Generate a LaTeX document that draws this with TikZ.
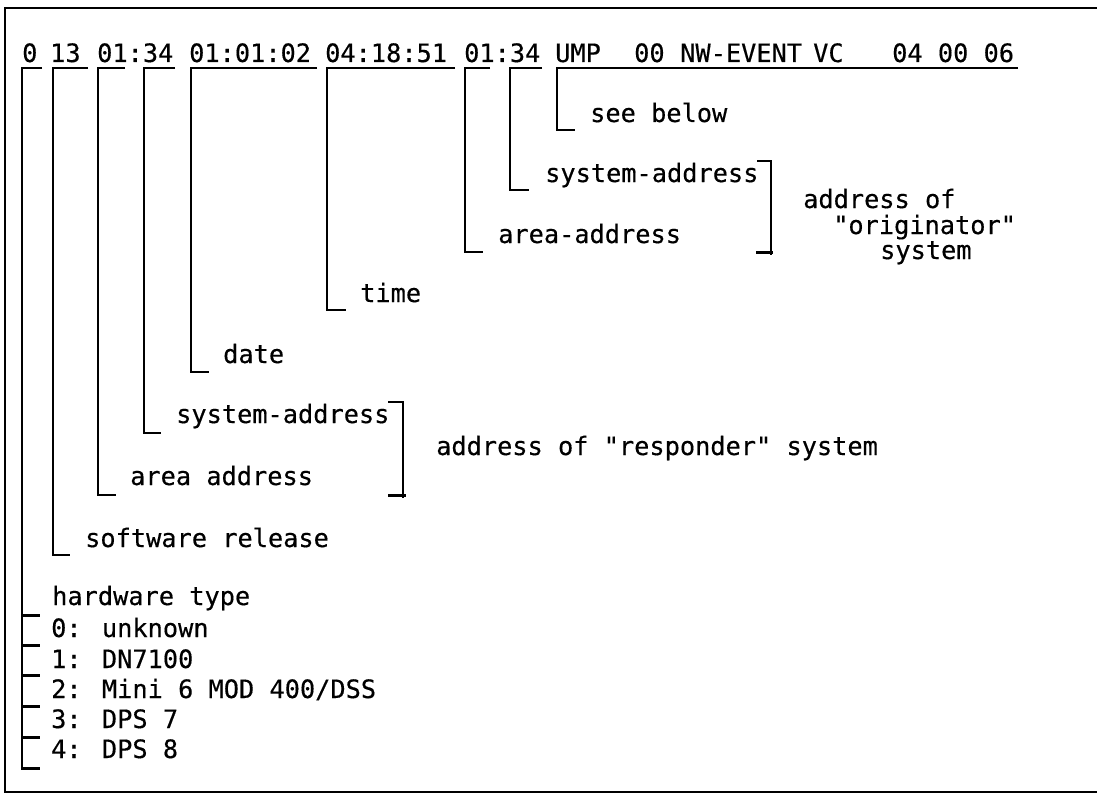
\documentclass[tikz,border=0pt]{standalone}
\usepackage{fontspec}
\newfontfamily\monofnt[FakeBold=0.4]{DejaVu Sans Mono}
\begin{document}
\begin{tikzpicture}[x=1pt,y=-1pt,
  lbl/.style={font=\monofnt\fontsize{25.3}{30}\selectfont, inner sep=0pt, anchor=base west},
  frame/.style={line width=1.8pt},
  brk/.style={line width=2.4pt, line join=miter},
  tk/.style={line width=3pt}]
\useasboundingbox (0,0) rectangle (1097,797);
% frame (top, left, bottom)
\draw[frame] (1097,8) -- (5,8) -- (5,792) -- (1097,792);
% header fields
\node[lbl] (h0) at (22,62) {0};
\node[lbl] (h13) at (50,62) {13};
\node[lbl] (h0134a) at (97,62) {01:34};
\node[lbl] (hdate) at (189,62) {01:01:02};
\node[lbl] (htime) at (325,62) {04:18:51};
\node[lbl] (h0134b) at (464,62) {01:34};
\node[lbl] (hump) at (555,62) {UMP};
\node[lbl] (h00) at (634,62) {00};
\node[lbl] (hnw) at (680,62) {NW-EVENT};
\node[lbl] (hvc) at (813,62) {VC};
\node[lbl] (hnum) at (892,62) {04 00 06};
% labels
\node[lbl] (seebelow) at (590,122) {see below};
\node[lbl] (osys) at (545,182) {system-address};
\node[lbl] (oarea) at (498,243) {area-address};
\node[lbl] (time) at (360,302) {time};
\node[lbl] (date) at (223,363) {date};
\node[lbl] (rsys) at (176,423) {system-address};
\node[lbl] (rarea) at (130,485) {area address};
\node[lbl] (soft) at (85,547) {software release};
\node[lbl] (hw) at (52,605) {hardware type};
\node[lbl] (hw0) at (51,637) {0: unknown};
\node[lbl] (hw1) at (51,668) {1: DN7100};
\node[lbl] (hw2) at (51,698) {2: Mini 6 MOD 400/DSS};
\node[lbl] (hw3) at (51,728) {3: DPS 7};
\node[lbl] (hw4) at (51,758) {4: DPS 8};
\node[lbl] (orig1) at (803,208) {address of};
\node[lbl] (orig2) at (833,234) {"originator"};
\node[lbl] (orig3) at (880,259) {system};
\node[lbl] (resp) at (436,455) {address of "responder" system};
% field brackets: top segment, vertical, tick
\coordinate (fUMP) at (557,68);
\draw[brk] (1018,68) -- (fUMP) -- (557,130) -- (575,130);
\coordinate (fOsys) at (510,68);
\draw[brk] (542,68) -- (fOsys) -- (510,190) -- (529,190);
\coordinate (fOarea) at (465,68);
\draw[brk] (490,68) -- (fOarea) -- (465,252) -- (483,252);
\coordinate (fTime) at (327,68);
\draw[brk] (455,68) -- (fTime) -- (327,310) -- (346,310);
\coordinate (fDate) at (191,68);
\draw[brk] (317,68) -- (fDate) -- (191,372) -- (209,372);
\coordinate (fRsys) at (144,68);
\draw[brk] (175,68) -- (fRsys) -- (144,433) -- (161,433);
\coordinate (fRarea) at (98,68);
\draw[brk] (125,68) -- (fRarea) -- (98,495) -- (116,495);
\coordinate (fSoft) at (53,68);
\draw[brk] (88,68) -- (fSoft) -- (53,555) -- (70,555);
\coordinate (fHw) at (22,68);
\draw[brk] (42,68) -- (fHw) -- (22,770);
\foreach \y in {615,645,675,706,737,768} \draw[tk] (22,\y) -- (40,\y);
% group brackets
\draw[brk] (757,161) -- (771,161) -- (771,255);
\draw[tk] (756,252) -- (773,252);
\draw[brk] (388,402) -- (403,402) -- (403,498);
\draw[tk] (388,495) -- (406,495);
\end{tikzpicture}
\end{document}
